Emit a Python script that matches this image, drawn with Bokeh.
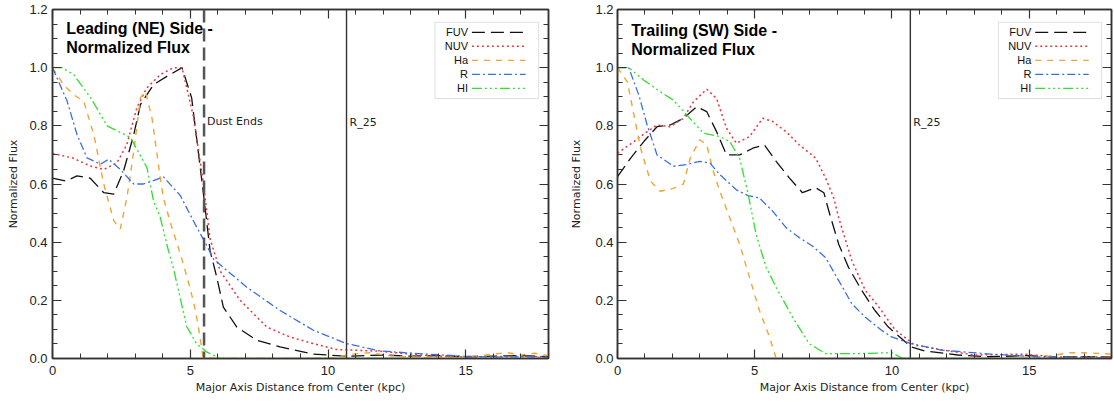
from bokeh.plotting import figure
from bokeh.models import (Range1d, LinearAxis, FixedTicker, NumeralTickFormatter,
                          Span, Label, BoxAnnotation, CustomJSTickFormatter)
from bokeh.layouts import row
from bokeh.embed import file_html
from bokeh.resources import INLINE

# ---------------- data: Leading (NE) side ----------------
L_FUV_X = [0, 0.48, 0.89, 1.37, 1.86, 2.22, 2.58, 2.95, 3.19, 3.67, 4.15, 4.7, 5.05, 5.48, 5.72, 5.96, 6.2, 6.69, 7.41, 8.26, 9.47, 10.7, 12, 13, 14, 15, 16, 17, 18]
L_FUV_Y = [0.62, 0.61, 0.628, 0.62, 0.57, 0.565, 0.645, 0.77, 0.873, 0.942, 0.97, 1.0, 0.896, 0.565, 0.37, 0.28, 0.177, 0.108, 0.063, 0.04, 0.015, 0.008, 0.012, 0.008, 0.01, 0.006, 0.008, 0.01, 0.006]

L_NUV_X = [0, 0.72, 1.37, 1.86, 2.34, 2.7, 3.06, 3.42, 3.91, 4.39, 4.7, 5.12, 5.48, 5.72, 6.09, 6.81, 7.78, 8.62, 9.47, 10.3, 11.9, 13.1, 14, 15, 16, 17, 18]
L_NUV_Y = [0.705, 0.69, 0.662, 0.65, 0.673, 0.736, 0.862, 0.93, 0.976, 1.0, 1.0, 0.83, 0.6, 0.41, 0.30, 0.2, 0.108, 0.074, 0.051, 0.031, 0.025, 0.014, 0.008, 0.006, 0.006, 0.008, 0.005]

L_HA_X = [0, 0.41, 0.77, 1.13, 1.5, 1.86, 2.22, 2.46, 2.7, 2.95, 3.19, 3.37, 3.61, 3.91, 4.03, 4.3, 4.64, 5.0, 5.2, 5.36, 5.46, 6, 8, 10, 10.9, 11.5, 12.2, 13, 14, 15, 16, 16.5, 17, 17.5, 18]
L_HA_Y = [1.0, 0.94, 0.907, 0.885, 0.77, 0.6, 0.474, 0.445, 0.553, 0.713, 0.896, 0.919, 0.827, 0.622, 0.55, 0.46, 0.36, 0.24, 0.16, 0.07, 0.005, 0.0, 0.0, 0.0, 0.015, 0.02, 0.01, 0.005, 0.003, 0.005, 0.015, 0.02, 0.012, 0.018, 0.01]

L_R_X = [0, 0.53, 0.89, 1.25, 1.74, 2.04, 2.46, 2.95, 3.3, 4.03, 4.64, 5.24, 5.59, 5.84, 7.05, 8.26, 9.47, 10.68, 11.88, 13.1, 14.9, 16, 17, 18]
L_R_Y = [1.0, 0.885, 0.77, 0.69, 0.668, 0.685, 0.65, 0.6, 0.6, 0.624, 0.56, 0.45, 0.39, 0.342, 0.245, 0.165, 0.097, 0.051, 0.026, 0.018, 0.008, 0.005, 0.006, 0.004]

L_HI_X = [0, 0.35, 0.77, 1.39, 1.98, 2.83, 3.43, 3.67, 3.91, 4.21, 4.39, 4.87, 5.23, 5.59, 6.08, 7, 18]
L_HI_Y = [1.0, 1.0, 0.976, 0.896, 0.80, 0.76, 0.656, 0.54, 0.485, 0.37, 0.31, 0.11, 0.05, 0.023, 0.0, 0.0, 0.0]

# ---------------- data: Trailing (SW) side ----------------
T_FUV_X = [0, 0.48, 0.96, 1.44, 1.92, 2.4, 2.89, 3.25, 3.61, 3.97, 4.45, 4.93, 5.35, 5.78, 6.26, 6.74, 7.22, 7.52, 7.7, 8.06, 8.42, 8.9, 9.38, 9.87, 10.7, 11.2, 12.4, 13.5, 15, 16, 17, 18]
T_FUV_Y = [0.625, 0.689, 0.746, 0.797, 0.803, 0.826, 0.866, 0.849, 0.78, 0.70, 0.70, 0.723, 0.735, 0.678, 0.621, 0.57, 0.587, 0.57, 0.507, 0.393, 0.313, 0.234, 0.165, 0.108, 0.04, 0.026, 0.012, 0.006, 0.01, 0.005, 0.006, 0.005]

T_NUV_X = [0, 0.6, 1.08, 1.44, 1.92, 2.4, 2.77, 3.25, 3.61, 3.97, 4.33, 4.81, 5.29, 5.65, 6.14, 6.62, 7.22, 7.58, 7.88, 8.06, 8.54, 9.03, 9.5, 10.1, 10.83, 11.8, 13.0, 14.8, 16, 17, 18]
T_NUV_Y = [0.706, 0.746, 0.78, 0.803, 0.797, 0.826, 0.883, 0.926, 0.894, 0.792, 0.74, 0.763, 0.826, 0.815, 0.78, 0.735, 0.689, 0.621, 0.552, 0.484, 0.336, 0.234, 0.18, 0.1, 0.046, 0.03, 0.012, 0.015, 0.005, 0.006, 0.005]

T_HA_X = [0, 0.36, 0.6, 0.84, 1.2, 1.56, 2.04, 2.4, 2.65, 3.0, 3.25, 3.49, 3.73, 4.09, 4.45, 4.81, 5.17, 5.54, 5.78, 7, 10, 12, 14, 15.5, 16.5, 17, 18]
T_HA_Y = [1.0, 0.951, 0.837, 0.723, 0.61, 0.575, 0.585, 0.6, 0.689, 0.752, 0.735, 0.644, 0.575, 0.484, 0.393, 0.279, 0.165, 0.074, 0.0, 0.0, 0.0, 0.0, 0.0, 0.005, 0.02, 0.02, 0.015]

T_R_X = [0, 0.41, 0.78, 1.08, 1.44, 2.04, 2.53, 3.0, 3.37, 3.7, 4.33, 4.75, 5.17, 5.65, 6.14, 6.62, 7.1, 7.58, 8.06, 8.54, 9.03, 9.62, 9.99, 10.7, 11.8, 13.6, 15.4, 18]
T_R_Y = [1.0, 1.0, 0.905, 0.803, 0.70, 0.661, 0.667, 0.678, 0.672, 0.635, 0.58, 0.56, 0.552, 0.507, 0.45, 0.416, 0.387, 0.347, 0.268, 0.188, 0.142, 0.097, 0.074, 0.051, 0.029, 0.015, 0.005, 0.002]

T_HI_X = [0, 0.41, 0.96, 1.56, 2.04, 2.53, 3.13, 3.73, 4.09, 4.45, 4.75, 5.05, 5.42, 5.78, 6.38, 6.98, 7.58, 8.78, 9.99, 10.4, 11, 18]
T_HI_Y = [1.0, 1.0, 0.957, 0.917, 0.888, 0.837, 0.775, 0.763, 0.746, 0.689, 0.57, 0.427, 0.313, 0.245, 0.142, 0.051, 0.017, 0.017, 0.02, 0.0, 0.0, 0.0]

SERIES_NAMES = ["FUV", "NUV", "Ha", "R", "HI"]
DUST_ENDS_KPC = 5.5
R25_KPC = 10.67
X_TICKS = [0, 5, 10, 15]
Y_TICKS = [0.0, 0.2, 0.4, 0.6, 0.8, 1.0, 1.2]

# ---------------- styles ----------------
STYLES = {
    "FUV": dict(line_color="#111111", line_dash="13 6", line_width=1.3),
    "NUV": dict(line_color="#e8363c", line_dash="2 3", line_width=1.5),
    "Ha": dict(line_color="#f2a432", line_dash="6 6", line_width=1.4),
    "R": dict(line_color="#3b6ee6", line_dash="8 3 2 3", line_width=1.3),
    "HI": dict(line_color="#2ee02e", line_dash="10 3 2 3 2 3 2 3", line_width=1.3),
}
AX_COLOR = "#333333"
TICK_FONT = "Liberation Sans"
LABEL_FONT = "DejaVu Sans"

X_MINOR = [i for i in range(0, 19)]
Y_MINOR = [round(i * 0.05, 2) for i in range(0, 25)]


def x_ticker():
    return FixedTicker(ticks=X_TICKS, minor_ticks=X_MINOR)


def y_ticker():
    return FixedTicker(ticks=Y_TICKS, minor_ticks=Y_MINOR)


def make_panel(title1, title2, title_y, series, show_dust, borders, tick_standoff_y, ylabel_standoff):
    bl, br, bt, bb = borders
    p = figure(width=557, height=403, x_range=Range1d(0, 18), y_range=Range1d(0, 1.2),
               output_backend="svg", toolbar_location=None,
               min_border_left=bl, min_border_right=br, min_border_top=bt, min_border_bottom=bb,
               x_axis_label="Major Axis Distance from Center (kpc)",
               y_axis_label="Normalized Flux")
    p.background_fill_color = "white"
    p.border_fill_color = "white"
    p.xgrid.visible = False
    p.ygrid.visible = False
    p.outline_line_color = AX_COLOR
    p.outline_line_width = 1.5

    p.xaxis.ticker = x_ticker()
    p.yaxis.ticker = y_ticker()
    p.yaxis.formatter = NumeralTickFormatter(format="0.0")

    top = LinearAxis(ticker=x_ticker(), formatter=CustomJSTickFormatter(code="return ''"))
    right = LinearAxis(ticker=y_ticker(), formatter=CustomJSTickFormatter(code="return ''"))
    p.add_layout(top, "above")
    p.add_layout(right, "right")
    for ax in [top, right]:
        ax.major_label_text_font_size = "1px"
        ax.major_label_text_alpha = 0
        ax.major_label_standoff = 0

    for ax in p.axis:
        ax.axis_line_color = AX_COLOR
        ax.axis_line_width = 1.5
        ax.major_tick_line_color = AX_COLOR
        ax.minor_tick_line_color = AX_COLOR
        ax.major_tick_line_width = 1.2
        ax.minor_tick_line_width = 1.0
        ax.major_tick_out = 0
        ax.minor_tick_out = 0
        ax.major_tick_in = 9
        ax.minor_tick_in = 5
        ax.axis_label_text_font = LABEL_FONT
        ax.axis_label_text_font_size = "11px"
        ax.axis_label_text_font_style = "normal"
        ax.axis_label_text_color = "#222222"
    for ax in [p.below[0], p.left[0]]:
        ax.major_label_text_font = TICK_FONT
        ax.major_label_text_font_size = "13px"
        ax.major_label_text_color = "#222222"
    p.below[0].major_label_standoff = 7
    p.below[0].axis_label_standoff = 3
    p.left[0].major_label_standoff = tick_standoff_y
    p.left[0].axis_label_standoff = ylabel_standoff

    for name, (xs, ys) in zip(SERIES_NAMES, series):
        p.line(xs, ys, **STYLES[name])

    if show_dust:
        p.add_layout(Span(location=DUST_ENDS_KPC, dimension="height", line_color="#555555",
                          line_width=2.5, line_dash="13 6"))
        p.add_layout(Label(x=DUST_ENDS_KPC, y=0.814, x_offset=3, text="Dust Ends",
                           text_font=LABEL_FONT, text_font_size="11px", text_color="#222222",
                           text_baseline="middle"))
    p.add_layout(Span(location=R25_KPC, dimension="height", line_color="#333333", line_width=1.4))
    p.add_layout(Label(x=R25_KPC, y=0.81, x_offset=3, text="R_25",
                       text_font=LABEL_FONT, text_font_size="11px", text_color="#222222",
                       text_baseline="middle"))

    # panel title inside plot
    for txt, yy in [(title1, title_y[0]), (title2, title_y[1])]:
        p.add_layout(Label(x=0.5, y=yy, text=txt, text_font="Liberation Sans",
                           text_font_size="16px", text_font_style="bold", text_color="black",
                           text_baseline="alphabetic"))

    # legend (label left, sample right, as in the original)
    lx0, lx1, ly0, ly1 = 13.88, 17.64, 0.894, 1.156
    box = BoxAnnotation(left=lx0, right=lx1, bottom=ly0, top=ly1, fill_color="white",
                        fill_alpha=1.0, line_color="#999999", line_width=1, level="underlay")
    p.add_layout(box)
    row_h = (ly1 - ly0) / 5.45
    for i, name in enumerate(SERIES_NAMES):
        yy = ly1 - row_h * (0.72 + i)
        p.add_layout(Label(x=15.08, y=yy, text=name, text_font="Liberation Sans",
                           text_font_size="11px", text_color="#111111",
                           text_align="right", text_baseline="middle"))
        p.line([15.22, 17.17], [yy, yy], **STYLES[name])
    return p


left = make_panel("Leading (NE) Side -", "Normalized Flux", (1.134, 1.069),
                  [(L_FUV_X, L_FUV_Y), (L_NUV_X, L_NUV_Y), (L_HA_X, L_HA_Y),
                   (L_R_X, L_R_Y), (L_HI_X, L_HI_Y)],
                  True, (52, 9, 7, 45), 5, 6)
right = make_panel("Trailing (SW) Side -", "Normalized Flux", (1.127, 1.062),
                   [(T_FUV_X, T_FUV_Y), (T_NUV_X, T_NUV_Y), (T_HA_X, T_HA_Y),
                    (T_R_X, T_R_Y), (T_HI_X, T_HI_Y)],
                   False, (60, 3, 9, 41), 4, 9)

layout = row(left, right)
open("out.html", "w").write(file_html(layout, INLINE))
